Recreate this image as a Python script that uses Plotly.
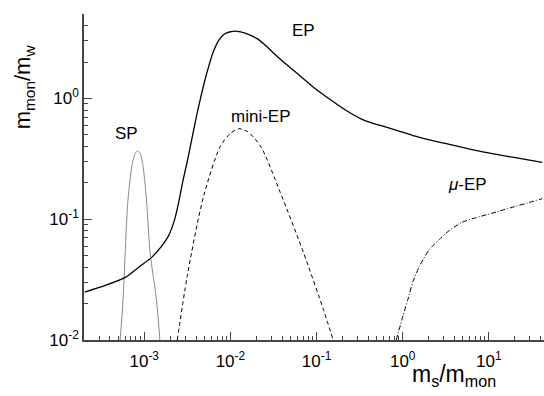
import math
import plotly.graph_objects as go

# ---- data ----
ep_x = [2.04e-4, 3.47e-4, 5.96e-4, 8.91e-4, 1.21e-3, 1.585e-3, 1.905e-3, 2.239e-3,
        2.512e-3, 2.818e-3, 3.162e-3, 3.467e-3, 3.802e-3, 4.121e-3, 4.498e-3,
        5.012e-3, 5.623e-3, 6.368e-3, 7.328e-3, 8.375e-3, 0.01, 0.01202, 0.01479,
        0.02042, 0.02455, 0.0302, 0.0380, 0.0589, 0.0912, 0.1413, 0.2188,
        0.3428, 0.4266, 0.537, 0.832, 1.318, 3.199, 7.762, 18.84, 41.69]
ep_y = [0.02495, 0.02818, 0.03281, 0.04074, 0.04808, 0.05957, 0.07244, 0.09772,
        0.1380, 0.2089, 0.3020, 0.4169, 0.5754, 0.7586, 1.0,
        1.380, 1.862, 2.455, 3.020, 3.388, 3.565, 3.597, 3.467,
        3.126, 2.818, 2.455, 2.109, 1.622, 1.245, 0.989, 0.798,
        0.668, 0.631, 0.600, 0.547, 0.493, 0.422, 0.366, 0.326, 0.296]

sp_x = [5.25e-4, 5.69e-4, 6.46e-4, 7.31e-4, 7.94e-4, 8.41e-4, 8.91e-4,
        9.55e-4, 1.06e-3, 1.17e-3, 1.38e-3, 1.52e-3]
sp_y = [0.010, 0.0221, 0.141, 0.295, 0.355, 0.366, 0.355,
        0.295, 0.147, 0.053, 0.0221, 0.010]

mini_x = [2.42e-3, 3.16e-3, 4.90e-3, 7.66e-3, 0.010, 0.0125, 0.0158,
          0.0224, 0.038, 0.0705, 0.120, 0.156]
mini_y = [0.010, 0.0339, 0.156, 0.402, 0.513, 0.561, 0.531,
          0.402, 0.166, 0.053, 0.0179, 0.010]

mu_x = [0.841, 1.007, 1.15, 1.31, 1.57, 2.04, 2.68, 3.24, 4.90, 12.3, 41.7]
mu_y = [0.010, 0.0158, 0.0217, 0.0302, 0.041, 0.0562, 0.0682, 0.0776,
        0.0944, 0.115, 0.148]

x_tickvals = [1e-3, 1e-2, 1e-1, 1, 10]
x_ticktext = ["10<sup>-3</sup>", "10<sup>-2</sup>", "10<sup>-1</sup>",
              "10<sup>0</sup>", "10<sup>1</sup>"]
y_tickvals = [1e-2, 1e-1, 1]
y_ticktext = ["10<sup>-2</sup>", "10<sup>-1</sup>", "10<sup>0</sup>"]

labels = ["EP", "mini-EP", "SP", "<i>μ</i>-EP"]
label_x = [0.0698, 0.0228, 6.28e-4, 5.71]
label_y = [3.67, 0.709, 0.513, 0.193]

# minor tick positions (2..9 per decade)
x_minor = [m * 10.0 ** e for e in range(-4, 2) for m in range(2, 10)]
y_minor = [m * 10.0 ** e for e in range(-2, 1) for m in range(2, 10)]

FONT = "Liberation Sans, Arial, sans-serif"

fig = go.Figure()
fig.add_trace(go.Scatter(x=sp_x, y=sp_y, mode="lines",
                         line=dict(color="#8a8a8a", width=1, shape="spline", smoothing=0.8)))
fig.add_trace(go.Scatter(x=ep_x, y=ep_y, mode="lines",
                         line=dict(color="black", width=1.3, shape="spline", smoothing=0.6)))
fig.add_trace(go.Scatter(x=mini_x, y=mini_y, mode="lines",
                         line=dict(color="black", width=1, dash="4px,3px", shape="spline", smoothing=0.8)))
fig.add_trace(go.Scatter(x=mu_x, y=mu_y, mode="lines",
                         line=dict(color="black", width=1, dash="5px,2px,1px,2px", shape="spline", smoothing=0.6)))

for t, lx, ly in zip(labels, label_x, label_y):
    fig.add_annotation(x=math.log10(lx), y=math.log10(ly),
                       xref="x", yref="y", text=t, showarrow=False,
                       font=dict(family=FONT, size=17, color="black"))

# axis titles
fig.add_annotation(xref="paper", yref="paper", x=-0.165, y=0.912,
                   text="m<sub>mon</sub>/m<sub>w</sub>", textangle=-90, showarrow=False,
                   font=dict(family=FONT, size=22, color="black"))
fig.add_annotation(xref="paper", yref="paper", x=0.7087, y=-0.16, xanchor="left",
                   text="m<sub>s</sub>/m<sub>mon</sub>", showarrow=False,
                   font=dict(family=FONT, size=23, color="black"))

axis_common = dict(showgrid=False, zeroline=False, showline=True, linecolor="#444",
                   linewidth=1.5, ticks="inside", ticklen=8, tickcolor="#444", tickwidth=1.3,
                   tickfont=dict(family=FONT, size=17, color="black"), mirror=False)

fig.update_xaxes(type="log", range=[-3.699, 1.64], tickmode="array",
                 tickvals=x_tickvals, ticktext=x_ticktext, ticklabelstandoff=5,
                 minor=dict(tickmode="array", tickvals=x_minor, ticks="inside",
                            ticklen=4, tickcolor="#444", tickwidth=1, showgrid=False),
                 **axis_common)
fig.update_yaxes(type="log", range=[-2, 0.699], tickmode="array",
                 tickvals=y_tickvals, ticktext=y_ticktext,
                 minor=dict(tickmode="array", tickvals=y_minor, ticks="inside",
                            ticklen=4, tickcolor="#444", tickwidth=1, showgrid=False),
                 **axis_common)

fig.update_layout(width=544, height=396, showlegend=False,
                  margin=dict(l=84, r=0, t=14, b=56),
                  plot_bgcolor="white", paper_bgcolor="white",
                  font=dict(family=FONT, color="black"))

fig.write_html("out.html", config={"displayModeBar": False},
               post_script="document.body.style.margin='0px';")
